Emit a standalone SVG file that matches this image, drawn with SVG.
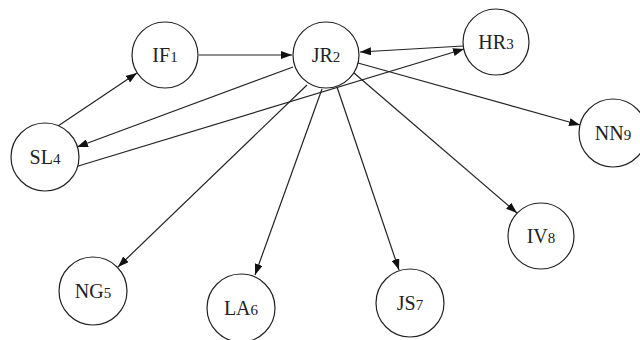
<svg xmlns="http://www.w3.org/2000/svg" width="640" height="340" viewBox="0 0 640 340">
  <style>
    .node circle { fill: #ffffff; stroke: #222222; stroke-width: 1.2; }
    .node text { font-family: "Liberation Serif", "Times New Roman", serif; font-size: 20px; fill: #222222; text-anchor: middle; }
    .node tspan.sub { font-size: 15px; }
    .edges line { stroke: #222222; stroke-width: 1.2; fill: none; }
  </style>
  <defs>
    <marker id="arrow" viewBox="0 0 11 8" refX="11" refY="4" markerWidth="11" markerHeight="8" markerUnits="userSpaceOnUse" orient="auto">
      <path d="M0,0 L11,4 L0,8 z" fill="#111111"/>
    </marker>
  </defs>

  <g class="edges">
    <line x1="58" y1="126" x2="137" y2="73" marker-end="url(#arrow)"/>
    <line x1="199" y1="55" x2="292" y2="55" marker-end="url(#arrow)"/>
    <line x1="293" y1="67" x2="77" y2="147" marker-end="url(#arrow)"/>
    <line x1="75" y1="167" x2="464" y2="49" marker-end="url(#arrow)"/>
    <line x1="463" y1="46" x2="360" y2="52" marker-end="url(#arrow)"/>
    <line x1="358" y1="63" x2="580" y2="125" marker-end="url(#arrow)"/>
    <line x1="354" y1="73" x2="517" y2="213" marker-end="url(#arrow)"/>
    <line x1="337" y1="87" x2="399" y2="270" marker-end="url(#arrow)"/>
    <line x1="322" y1="89" x2="255" y2="275" marker-end="url(#arrow)"/>
    <line x1="307" y1="85" x2="118" y2="267" marker-end="url(#arrow)"/>
  </g>

  <g id="IF1" class="node">
    <circle cx="165" cy="55" r="33"/>
    <text x="165" y="62">IF<tspan class="sub">1</tspan></text>
  </g>
  <g id="JR2" class="node">
    <circle cx="326" cy="55" r="33"/>
    <text x="326" y="62">JR<tspan class="sub">2</tspan></text>
  </g>
  <g id="HR3" class="node">
    <circle cx="496" cy="42" r="33"/>
    <text x="496" y="49">HR<tspan class="sub">3</tspan></text>
  </g>
  <g id="SL4" class="node">
    <circle cx="45" cy="157" r="34"/>
    <text x="45" y="164">SL<tspan class="sub">4</tspan></text>
  </g>
  <g id="NG5" class="node">
    <circle cx="93" cy="291" r="34"/>
    <text x="93" y="298">NG<tspan class="sub">5</tspan></text>
  </g>
  <g id="LA6" class="node">
    <circle cx="241" cy="308" r="34"/>
    <text x="241" y="315">LA<tspan class="sub">6</tspan></text>
  </g>
  <g id="JS7" class="node">
    <circle cx="410" cy="303" r="34"/>
    <text x="410" y="310">JS<tspan class="sub">7</tspan></text>
  </g>
  <g id="IV8" class="node">
    <circle cx="541" cy="236" r="33"/>
    <text x="541" y="243">IV<tspan class="sub">8</tspan></text>
  </g>
  <g id="NN9" class="node">
    <circle cx="613" cy="133" r="34"/>
    <text x="613" y="140">NN<tspan class="sub">9</tspan></text>
  </g>
</svg>
